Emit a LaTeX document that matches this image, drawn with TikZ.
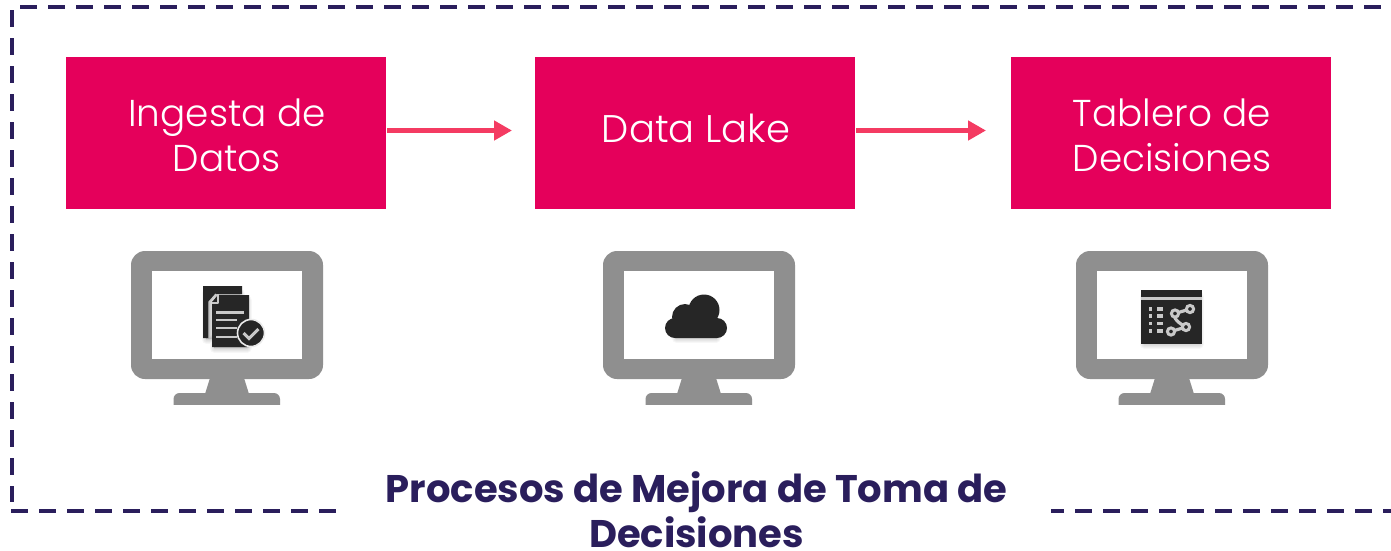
\documentclass[tikz,border=0pt]{standalone}
\usepackage{fontspec}
\setmainfont{Poppins}[UprightFont=* Light,BoldFont=* Bold]
\usetikzlibrary{arrows.meta}
\definecolor{boxred}{HTML}{E5005B}
\definecolor{arrowred}{HTML}{F43B62}
\definecolor{navy}{HTML}{2A1E5C}
\definecolor{mongray}{HTML}{8F8F8F}
\definecolor{icondark}{HTML}{262626}
\definecolor{iconlight}{HTML}{C9C9C9}
\tikzset{
  x=1pt,y=-1pt,
  stagebox/.style={fill=boxred,text=white,minimum width=320pt,minimum height=152pt,inner sep=0pt},
  stagetext/.style={text=white,inner sep=0pt,align=center,font=\fontsize{37.4}{45}\selectfont},
  flow/.style={arrowred,line width=5pt,-{Triangle[length=18pt,width=19pt]}},
  frameline/.style={navy,line width=4pt,dash pattern=on 16.5pt off 11.5pt},
  soft/.style={fill=black,opacity=0.03,draw=black,draw opacity=0.03,line join=round},
}
\newcommand{\monitor}[1]{%
  \begin{scope}[xshift=#1pt]
    \fill[mongray,rounded corners=14pt] (131,251) rectangle (323,379);
    \fill[white] (152,270.5) rectangle (302,358.5);
    \fill[mongray] (210,378) -- (244,378) -- (249,394) -- (205,394) -- cycle;
    \fill[mongray,rounded corners=6pt] (173.5,393) rectangle (280,412);
    \fill[white] (170,405) rectangle (284,414);
  \end{scope}}
\newcommand{\softshadow}[1]{%
  \foreach \w in {1,3,5,7,9}{\path[soft,line width=\w pt,yshift=-3pt] #1;}}
\begin{document}
\begin{tikzpicture}
\useasboundingbox[fill=white] (0,0) rectangle (1391,550);
% frame
\draw[frameline] (20,7) -- (1391,7);
\draw[frameline] (11.5,10) -- (11.5,502);
\draw[frameline] (11,511) -- (336,511);
\draw[frameline,dash phase=4pt] (1051,511) -- (1391,511);
% boxes
\node[stagebox] (ingesta) at (226,133) {};
\node[stagebox] (lake) at (695,133) {};
\node[stagebox] (tablero) at (1171,133) {};
\node[stagetext] (ingestatext) at (227,135.5) {Ingesta de\\Datos};
\node[stagetext,font=\fontsize{38.5}{45}\selectfont] (laketext) at (696,128) {Data Lake};
\node[stagetext] (tablerotext) at (1172,135.5) {Tablero de\\Decisiones};
\coordinate (a1s) at (387,130.5);
\coordinate (a1e) at (512,130.5);
\coordinate (a2s) at (856,130.5);
\coordinate (a2e) at (986,130.5);
\draw[flow] (a1s) -- (a1e);
\draw[flow] (a2s) -- (a2e);
% monitors
\monitor{0}
\monitor{472}
\monitor{945}
% document icon
\softshadow{(206,290) -- (240,290) -- (240,297) -- (247,297) -- (247,345) -- (214,345) -- (214,336) -- (206,336) -- cycle}
\fill[icondark] (203,286) -- (242,286) -- (242,294) -- (216,294) -- (209,302) -- (209,338) -- (203,338) -- cycle;
\fill[icondark] (218,295) -- (249,295) -- (249,347) -- (212,347) -- (212,302) -- cycle;
\draw[iconlight,line width=1.4pt] (216,294) -- (209,302) -- (209,338);
\draw[iconlight,line width=1.3pt,line join=round] (218,294) -- (218,303) -- (212,303);
\foreach \yy/\xx in {312.5/244,320/237,328/237,337/237}{\draw[iconlight,line width=2.6pt] (216,\yy) -- (\xx,\yy);}
\fill[icondark,draw=white!92!black,line width=1.6pt] (251,333) circle (13.5);
\draw[iconlight,line width=3pt] (243.5,333) -- (249,338.5) -- (258.5,329);
% cloud icon
\softshadow{(676,322) rectangle (716,335)}
\fill[icondark] (704,310) circle (15.5);
\fill[icondark] (685,317) circle (13);
\fill[icondark,rounded corners=10pt] (665,318) rectangle (727,338);
\fill[icondark] (675,316) rectangle (715,330);
% dashboard icon
\softshadow{(1144,293) rectangle (1199,341)}
\fill[icondark] (1141,290) rectangle (1202,344);
\fill[iconlight] (1141,297) rectangle (1202,300);
\foreach \yy in {309,316,323.5,331}{
  \fill[iconlight] (1148.5,\yy-1.8) rectangle (1152,\yy+1.8);
  \fill[iconlight] (1156.5,\yy-1.8) rectangle (1163,\yy+1.8);
}
\draw[iconlight,line width=3.2pt] (1190,309) -- (1175,313.5) .. controls (1172,318) and (1180,324) .. (1186,327) -- (1171,331.5);
\foreach \cx/\cy in {1190/309,1175/313.5,1186/327,1171/331.5}{\fill[icondark,draw=iconlight,line width=3pt] (\cx,\cy) circle (3.6);}
% title
\node[text=navy,inner sep=0pt,align=center,font=\fontsize{38.5}{45}\selectfont\bfseries] (title) at (696.5,509.5) {Procesos de Mejora de Toma de\\Decisiones};
\end{tikzpicture}
\end{document}
